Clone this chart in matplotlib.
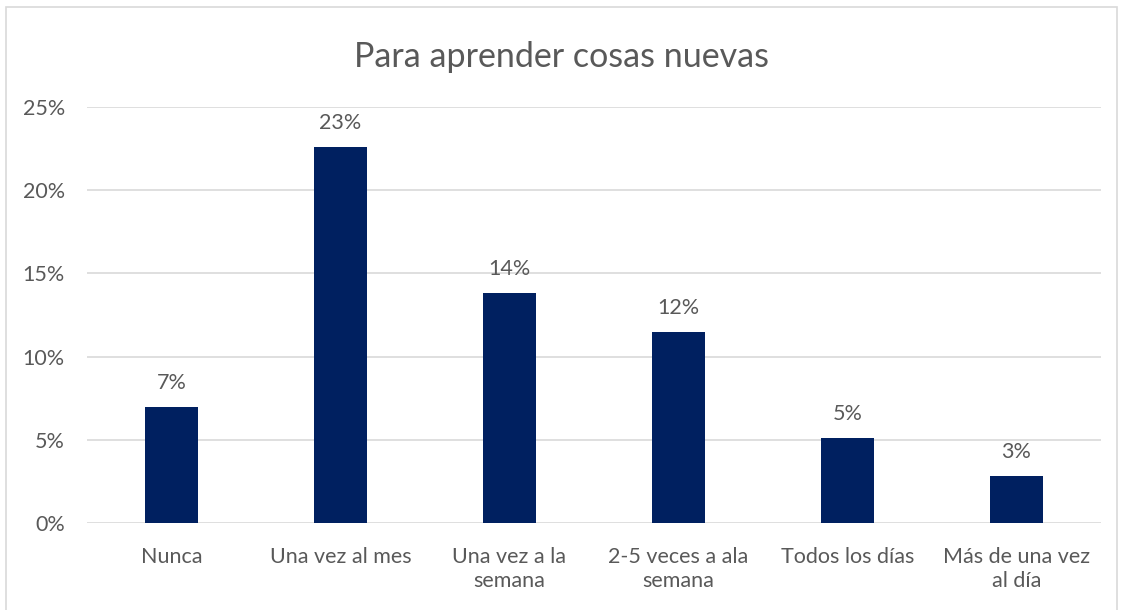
import matplotlib.pyplot as plt
from matplotlib.patches import Rectangle

# Data
categories = ['Nunca', 'Una vez al mes', 'Una vez a la\nsemana',
              '2-5 veces a ala\nsemana', 'Todos los días', 'Más de una vez\nal día']
values = [7.0, 22.6, 13.8, 11.5, 5.1, 2.85]
y_ticks = [0, 5, 10, 15, 20, 25]

plt.rcParams['font.family'] = ['Lato', 'DejaVu Sans']
text_color = '#595959'
bar_color = '#002060'

W, H = 1123, 610
fig = plt.figure(figsize=(W / 100, H / 100), dpi=100)
ax = fig.add_axes([87 / W, (H - 523) / H, (1101 - 87) / W, (523 - 107) / H])

x = range(len(categories))
bars = ax.bar(x, values, width=0.315, color=bar_color, zorder=3)

for rect, v in zip(bars, values):
    ax.annotate(f'{round(v):.0f}%', (rect.get_x() + rect.get_width() / 2, v),
                xytext=(0, 10), textcoords='offset points',
                ha='center', va='bottom', fontsize=15.5, color=text_color)

ax.set_xlim(-0.5, len(categories) - 0.5)
ax.set_ylim(0, 25)
ax.set_yticks(y_ticks)
ax.set_yticklabels([f'{t}%' for t in y_ticks])
ax.set_xticks(list(x))
ax.set_xticklabels(categories, linespacing=1.3)

ax.yaxis.grid(True, color='#d9d9d9', linewidth=1.2, zorder=0)
ax.tick_params(axis='both', length=0, labelsize=15.5, colors=text_color)
ax.tick_params(axis='x', pad=17)
ax.tick_params(axis='y', pad=16)
for s in ax.spines.values():
    s.set_visible(False)

fig.text(0.5, (H - 57) / H, 'Para aprender cosas nuevas', ha='center', va='center',
         fontsize=24.5, color=text_color)

# outer chart border
fig.patches.append(Rectangle((6 / W, -0.01), (1117 - 6) / W, (H - 7) / H + 0.01,
                             transform=fig.transFigure, fill=False,
                             edgecolor='#d9d9d9', linewidth=1.2))

fig.savefig('out.png', dpi=100, facecolor='white')
